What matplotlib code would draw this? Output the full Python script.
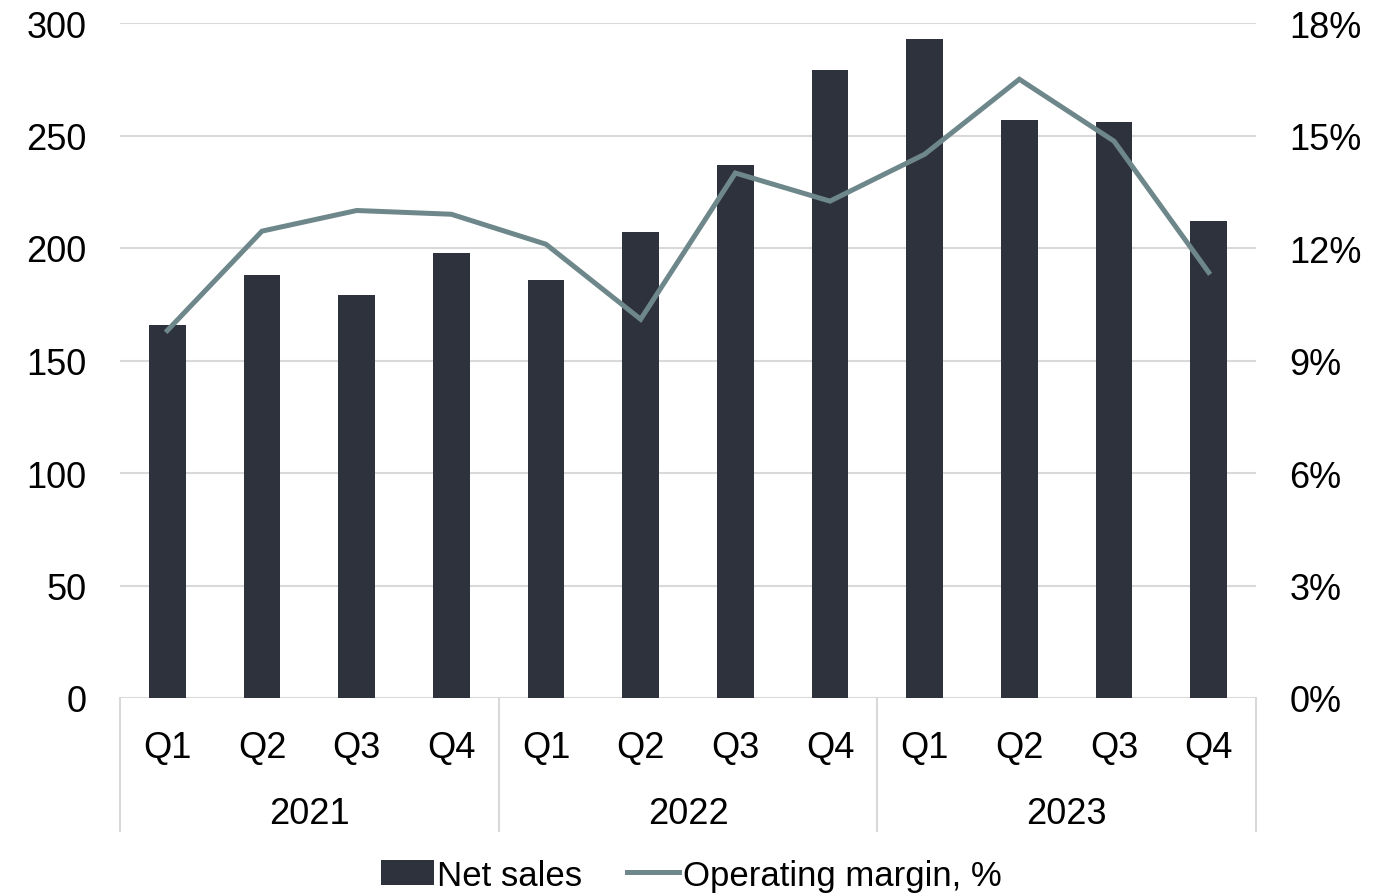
import matplotlib
matplotlib.use("Agg")
import matplotlib.pyplot as plt
import numpy as np
from matplotlib.ticker import FuncFormatter

plt.rcParams['font.family'] = ['Liberation Sans', 'DejaVu Sans']

quarters = ["Q1", "Q2", "Q3", "Q4"] * 3
years = ["2021", "2022", "2023"]
net_sales = [166, 188, 179, 198, 186, 207, 237, 279, 293, 257, 256, 212]
op_margin = [9.8, 12.45, 13.0, 12.9, 12.1, 10.1, 14.0, 13.25, 14.5, 16.5, 14.85, 11.35]

bar_color = "#2e323c"
line_color = "#6e878b"
grid_color = "#d9d9d9"
fs = 26

fig = plt.figure(figsize=(13.83, 8.95), dpi=100)
ax = fig.add_axes([120/1383, 1-699/895, (1256-120)/1383, 675/895])
x = np.arange(len(net_sales))
bars = ax.bar(x, net_sales, width=0.39, color=bar_color, zorder=3, label="Net sales")
ax.set_xlim(-0.5, len(net_sales)-0.5)
ax.set_ylim(0, 300)
ax.set_yticks(np.arange(0, 301, 50))
ax.grid(axis='y', color=grid_color, linewidth=1.5, zorder=0)
ax.set_axisbelow(True)
for s in ax.spines.values():
    s.set_visible(False)
ax.tick_params(axis='y', length=0, pad=24, labelsize=fs)
ax.set_xticks([])

ax2 = ax.twinx()
ax2.set_ylim(0, 18)
ax2.set_yticks(np.arange(0, 19, 3))
ax2.yaxis.set_major_formatter(FuncFormatter(lambda v, p: f"{int(v)}%"))
ax2.tick_params(axis='y', length=0, pad=24, labelsize=fs)
for s in ax2.spines.values():
    s.set_visible(False)
line, = ax2.plot(x, op_margin, color=line_color, linewidth=3.6, zorder=4,
                 label="Operating margin, %", solid_joinstyle='miter')

trans = ax.get_xaxis_transform()
for i, q in enumerate(quarters):
    ax.text(i, -0.074, q, transform=trans, ha='center', va='center', fontsize=fs)
for j, yr in enumerate(years):
    ax.text(j*4 + 1.5, -0.171, yr, transform=trans, ha='center', va='center', fontsize=fs)
for k in range(4):
    ax.plot([k*4 - 0.5]*2, [0, -0.197], transform=trans, color=grid_color,
            linewidth=1.5, clip_on=False)

fig.legend(handles=[bars, line], labels=["Net sales", "Operating margin, %"],
           loc='center', bbox_to_anchor=(0.5, 0.021), ncol=2, frameon=False,
           fontsize=25, handlelength=1.5, handletextpad=0.1, columnspacing=1.3,
           handleheight=0.75)

fig.savefig("out.png", dpi=100)
